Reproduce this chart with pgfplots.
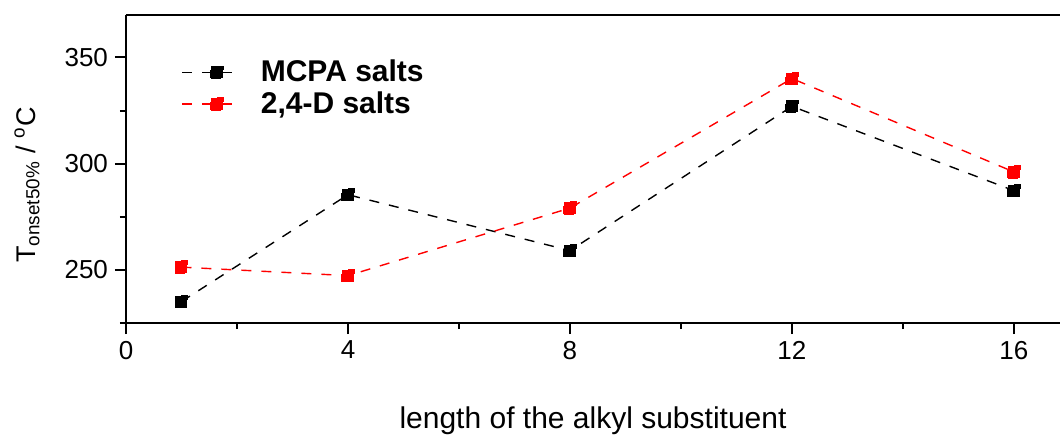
\documentclass[border=0pt]{standalone}
\usepackage{fontspec}
\setmainfont{Liberation Sans}
\usepackage{pgfplots}
\pgfplotsset{compat=1.18}
\begin{document}
\begin{tikzpicture}[font=\fontsize{13}{15.6}\selectfont]
\begin{axis}[
  name=ax,
  at={(0,0)}, anchor=south west,
  scale only axis,
  width=467pt, height=154pt,
  xmin=0, xmax=16.83, ymin=225, ymax=370,
  axis lines*=left,
  axis line style={line width=1pt},
  clip=false,
  xtick={0,4,8,12,16},
  minor xtick={2,6,10,14},
  ytick={250,300,350},
  minor ytick={225,275,325},
  tick align=outside,
  major tick length=5.5pt,
  minor tick length=3pt,
  every tick/.style={black, line width=1pt},
  xticklabel style={font=\fontsize{13}{15.6}\selectfont},
  yticklabel style={font=\fontsize{13}{15.6}\selectfont},
  /pgf/number format/assume math mode=true,
  xlabel={length of the alkyl substituent},
  ylabel={T\textsubscript{onset50\%} / \textsuperscript{o}C},
  xlabel style={font=\fontsize{15}{18}\selectfont, at={(axis description cs:0.5,-0.316)}, anchor=center},
  ylabel style={font=\fontsize{13.5}{16}\selectfont, at={(axis description cs:-0.106,0.448)}, anchor=center},
  legend style={at={(axis description cs:0.0525,0.875)}, anchor=north west, draw=none, fill=none,
    font=\fontsize{15}{18}\selectfont\bfseries, row sep=1.5pt,
    nodes={inner sep=1pt}},
  legend cell align=left,
  legend image code/.code={\draw[mark repeat=2,mark phase=2,#1] plot coordinates {(0pt,0pt)(17.5pt,0pt)(26pt,0pt)};},
  every axis plot/.append style={line width=0.7pt, dash pattern=on 5pt off 5pt, mark=square*, mark size=3pt, mark options={solid}},
]
\addplot[black, mark options={fill=black}] coordinates {(1,235.1) (4,285.4) (8,259.1) (12,327.0) (16,287.3)};
\addlegendentry{\hspace{12pt}MCPA salts}
\addplot[red, mark options={fill=red}] coordinates {(1,251.3) (4,247.3) (8,279.1) (12,340.1) (16,296.1)};
\addlegendentry{\hspace{12pt}2,4-D salts}
\draw[line width=1pt] (rel axis cs:0,1) -- (rel axis cs:1,1);
\end{axis}
\pgfresetboundingbox
\path[use as bounding box] ([xshift=-63pt,yshift=-55.5pt]ax.south west) rectangle ([yshift=7.5pt]ax.north east);
\end{tikzpicture}
\end{document}
